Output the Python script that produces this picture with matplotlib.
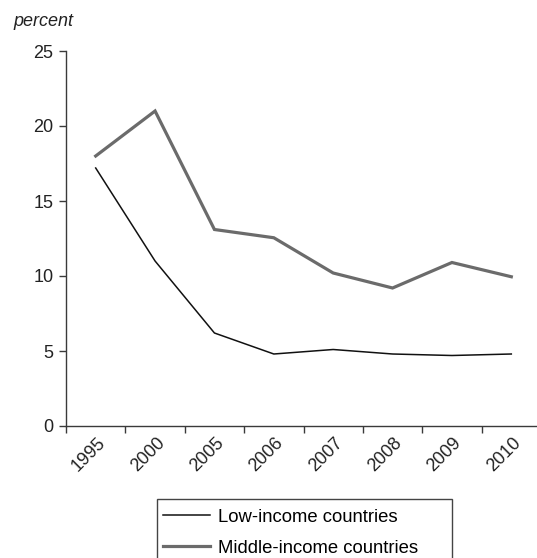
import numpy as np
import matplotlib
matplotlib.use("Agg")
import matplotlib.pyplot as plt
from matplotlib.patches import Rectangle
from matplotlib.transforms import ScaledTranslation

years = ["1995", "2000", "2005", "2006", "2007", "2008", "2009", "2010"]
low_income = [17.2, 11.0, 6.2, 4.8, 5.1, 4.8, 4.7, 4.8]
middle_income = [18.0, 21.0, 13.1, 12.55, 10.2, 9.2, 10.9, 9.95]
y_ticks = [0, 5, 10, 15, 20, 25]

plt.rcParams["font.family"] = ["Liberation Sans", "DejaVu Sans"]

W, H = 537, 558
fig = plt.figure(figsize=(W / 100, H / 100), dpi=100)

# axes box in pixel terms, right edge runs slightly past the figure
left, right, top, bottom = 66, 541, 51, 426
ax = fig.add_axes([left / W, 1 - bottom / H, (right - left) / W, (bottom - top) / H])

x = np.arange(len(years))
ax.plot(x, middle_income, color="#6b6b6b", linewidth=2.3,
        label="Middle-income countries", solid_joinstyle="miter")
ax.plot(x, low_income, color="#111111", linewidth=1.1,
        label="Low-income countries")

ax.set_xlim(-0.5, len(years) - 0.5)
ax.set_ylim(0, 25)

spine_col = "#3a3a3a"
for side in ["top", "right"]:
    ax.spines[side].set_visible(False)
for side in ["left", "bottom"]:
    ax.spines[side].set_color(spine_col)
    ax.spines[side].set_linewidth(1.0)

ax.set_yticks(y_ticks)
ax.tick_params(axis="y", direction="out", length=5, width=1.0,
               color=spine_col, labelsize=13, pad=4, labelcolor="#222222")

# boundary ticks, labels on category centres
ax.set_xticks(np.arange(-0.5, len(years) - 0.5, 1.0))
ax.set_xticklabels([])
ax.set_xticks(x, minor=True)
ax.set_xticklabels(years, minor=True)
ax.tick_params(axis="x", which="major", direction="out", length=5,
               width=1.0, color=spine_col)
ax.tick_params(axis="x", which="minor", length=0, pad=10.5, labelsize=13,
               labelcolor="#222222")
offset = ScaledTranslation(7 / 100, 0, fig.dpi_scale_trans)
for lab in ax.get_xticklabels(minor=True):
    lab.set_rotation(45)
    lab.set_rotation_mode("anchor")
    lab.set_ha("right")
    lab.set_va("center")
    lab.set_transform(lab.get_transform() + offset)

fig.text(13 / W, 1 - 22 / H, "percent", fontsize=13, style="italic",
         color="#222222", va="center", ha="left")

# legend entries without frame, box drawn separately (runs off the bottom)
handles, labels = ax.get_legend_handles_labels()
leg = fig.legend(handles[::-1], labels[::-1], loc="upper left",
                 bbox_to_anchor=(157 / W, 1 - 503 / H), fontsize=13.3,
                 frameon=False, borderpad=0.3,
                 handlelength=2.55, handletextpad=0.45, labelspacing=0.78,
                 borderaxespad=0)
fig.add_artist(Rectangle((157 / W, -0.05), (452 - 157) / W, 0.05 + 1 - 499 / H,
                         transform=fig.transFigure, fill=False,
                         edgecolor="#444444", linewidth=1.0))

fig.savefig("out.png", dpi=100)
